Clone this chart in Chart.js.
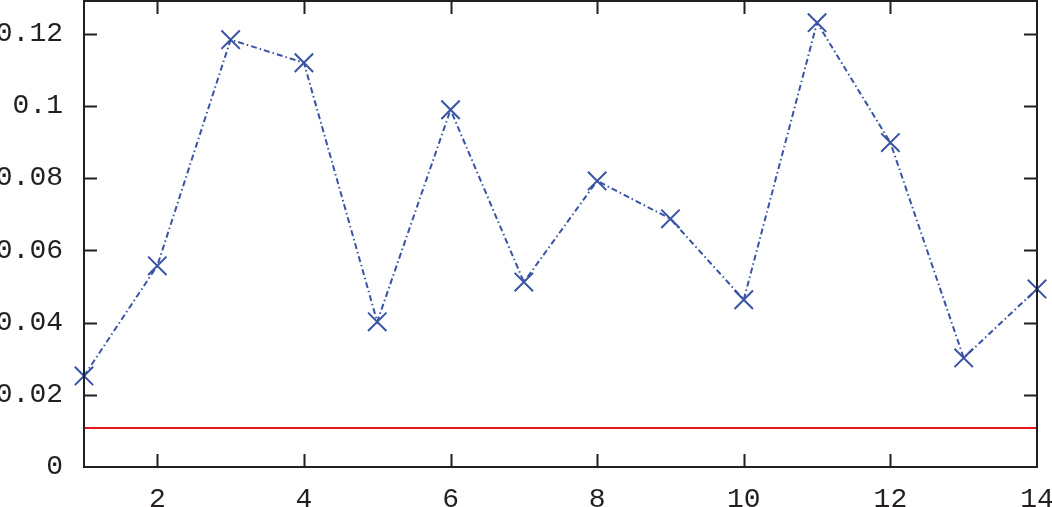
<!DOCTYPE html>
<html>
<head>
<meta charset="utf-8">
<script src="https://cdn.jsdelivr.net/npm/chart.js@4/dist/chart.umd.min.js"></script>
<style>
  html, body { margin: 0; padding: 0; background: #fff; }
  #wrap { width: 1052px; height: 507px; position: relative; }
</style>
</head>
<body>
<div id="wrap"><canvas id="chart"></canvas></div>
<script>
// values
var xValues = [1, 2, 3, 4, 5, 6, 7, 8, 9, 10, 11, 12, 13, 14];
var yValues = [0.0252, 0.0557, 0.1183, 0.1119, 0.0402, 0.0989, 0.0512, 0.0792, 0.0687, 0.0463, 0.1230, 0.0898, 0.0302, 0.0493];
var threshold = 0.0108;
var xTicks = [2, 4, 6, 8, 10, 12, 14];
var yTicks = [0, 0.02, 0.04, 0.06, 0.08, 0.1, 0.12];
var yLabels = ["0", "0.02", "0.04", "0.06", "0.08", "0.1", "0.12"];

var axisColor = "#231f20";
var monoFont = { family: "'Liberation Mono', 'DejaVu Sans Mono', monospace", size: 28 };

var points = xValues.map(function(x, i) { return { x: x, y: yValues[i] }; });
var limitLine = [
    { x: xValues[0], y: threshold },
    { x: xValues[xValues.length - 1], y: threshold }
];

// box around the plot and inward tick marks on all four sides
var frameTicks = {
    id: "frameTicks",
    afterDraw: function(chart) {
        var ctx = chart.ctx;
        var area = chart.chartArea;
        var xs = chart.scales.x;
        var ys = chart.scales.y;
        var len = 13;
        ctx.save();
        ctx.strokeStyle = axisColor;
        ctx.lineWidth = 2;
        xTicks.forEach(function(t) {
            var px = Math.round(xs.getPixelForValue(t)) + 0.5;
            if (px >= area.right - 2) return;
            ctx.beginPath();
            ctx.moveTo(px, area.bottom); ctx.lineTo(px, area.bottom - len);
            ctx.moveTo(px, area.top); ctx.lineTo(px, area.top + len);
            ctx.stroke();
        });
        yTicks.forEach(function(t) {
            var py = Math.round(ys.getPixelForValue(t)) + 0.5;
            if (py >= area.bottom - 2) return;
            ctx.beginPath();
            ctx.moveTo(area.left, py); ctx.lineTo(area.left + len, py);
            ctx.moveTo(area.right, py); ctx.lineTo(area.right - len, py);
            ctx.stroke();
        });
        ctx.strokeRect(area.left, area.top, area.right - area.left, area.bottom - area.top);
        ctx.restore();
    }
};

new Chart(document.getElementById("chart"), {
    type: "scatter",
    data: {
        datasets: [
            {
                data: points,
                showLine: true,
                borderColor: "#3953a4",
                borderWidth: 2,
                borderDash: [6, 3, 1.5, 3],
                pointStyle: "crossRot",
                pointRadius: 13,
                pointBorderWidth: 2,
                pointBorderColor: "#3953a4",
                pointBackgroundColor: "#3953a4",
                clip: false
            },
            {
                data: limitLine,
                showLine: true,
                borderColor: "#e8141b",
                borderWidth: 2,
                pointRadius: 0
            }
        ]
    },
    options: {
        responsive: true,
        maintainAspectRatio: false,
        animation: false,
        layout: { autoPadding: false, padding: { top: 1, right: 15, left: 0, bottom: 0 } },
        plugins: {
            legend: { display: false },
            tooltip: { enabled: false }
        },
        scales: {
            x: {
                type: "linear",
                min: 1,
                max: 14,
                afterBuildTicks: function(scale) {
                    scale.ticks = xTicks.map(function(v) { return { value: v }; });
                },
                afterFit: function(scale) {
                    scale.height = 40;
                    scale.paddingLeft = 0;
                    scale.paddingRight = 0;
                },
                grid: { display: false, drawTicks: false },
                border: { display: false },
                ticks: {
                    color: axisColor,
                    font: monoFont,
                    padding: 16,
                    maxRotation: 0,
                    autoSkip: false
                }
            },
            y: {
                min: 0,
                max: 0.129,
                afterBuildTicks: function(scale) {
                    scale.ticks = yTicks.map(function(v) { return { value: v }; });
                },
                afterFit: function(scale) {
                    scale.width = 84;
                    scale.paddingTop = 0;
                    scale.paddingBottom = 0;
                },
                grid: { display: false, drawTicks: false },
                border: { display: false },
                ticks: {
                    color: axisColor,
                    font: monoFont,
                    padding: 21,
                    autoSkip: false,
                    callback: function(v, i) { return yLabels[i]; }
                }
            }
        }
    },
    plugins: [frameTicks]
});
</script>
</body>
</html>
